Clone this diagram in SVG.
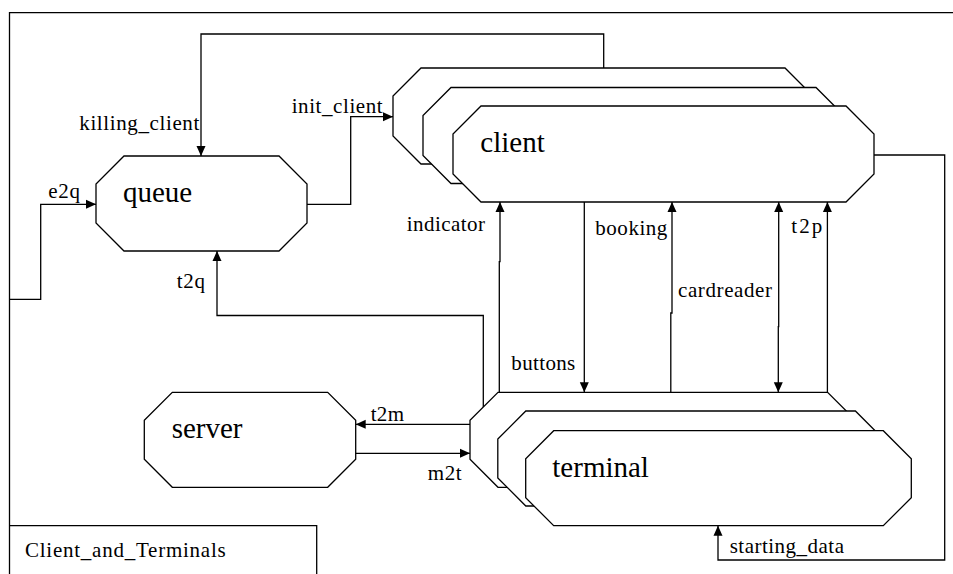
<svg xmlns="http://www.w3.org/2000/svg" width="953" height="574" viewBox="0 0 953 574">
  <defs>
    <marker id="arrow" markerUnits="userSpaceOnUse" markerWidth="10" markerHeight="10" viewBox="0 0 10 10" refX="10" refY="5" orient="auto">
      <path d="M0,0.5 L10,5 L0,9.5 z" fill="#000"/>
    </marker>
    <marker id="arrow-start" markerUnits="userSpaceOnUse" markerWidth="10" markerHeight="10" viewBox="0 0 10 10" refX="0" refY="5" orient="auto">
      <path d="M10,0.5 L0,5 L10,9.5 z" fill="#000"/>
    </marker>
  </defs>
  <style>
    .frame { fill: none; stroke: #000; stroke-width: 1.3; }
    .node { fill: #fff; stroke: #000; stroke-width: 1.3; stroke-linejoin: miter; }
    .conn { fill: none; stroke: #000; stroke-width: 1.3; }
    .name, .lbl { font-family: "Times New Roman", "Liberation Serif", Tinos, Times, "Noto Serif", "DejaVu Serif", serif; fill: #000; }
    .name { font-size: 29px; }
    .lbl { font-size: 21px; }
  </style>

  <rect width="953" height="574" fill="#fff"/>

  <!-- system frame and its name box -->
  <g id="frame">
    <path class="frame" d="M953,12.7 H9.5 V574"/>
    <path class="frame" d="M9.5,525.7 H316.7 V574"/>
    <text class="lbl" x="25" y="556.7" textLength="200.7" lengthAdjust="spacing">Client_and_Terminals</text>
  </g>

  <!-- queue process -->
  <g id="queue">
    <polygon class="node" points="124,156 279,156 307,184 307,223 279,251 124,251 96,223 96,184"/>
    <text class="name" x="123" y="201.5">queue</text>
  </g>

  <!-- client process set (three stacked instances) -->
  <g id="client">
    <polygon class="node" points="421,68 785,68 813,96 813,136 785,164 421,164 393,136 393,96"/>
    <polygon class="node" points="451,87.5 816,87.5 844,115.5 844,155.5 816,183.5 451,183.5 423,155.5 423,115.5"/>
    <polygon class="node" points="481,106 846,106 874,134 874,174 846,202 481,202 453,174 453,134"/>
    <text class="name" x="480.3" y="152.3">client</text>
  </g>

  <!-- server process -->
  <g id="server">
    <polygon class="node" points="172.3,392.3 327.7,392.3 355.7,420.3 355.7,459.3 327.7,487.3 172.3,487.3 144.3,459.3 144.3,420.3"/>
    <text class="name" x="171.7" y="437.8">server</text>
  </g>

  <!-- terminal process set (three stacked instances) -->
  <g id="terminal">
    <polygon class="node" points="498,392.3 827.6,392.3 855.6,420.3 855.6,459.3 827.6,487.3 498,487.3 470,459.3 470,420.3"/>
    <polygon class="node" points="525.8,411 855.4,411 883.4,439 883.4,478 855.4,506 525.8,506 497.8,478 497.8,439"/>
    <polygon class="node" points="553.7,430.7 883.3,430.7 911.3,458.7 911.3,497.7 883.3,525.7 553.7,525.7 525.7,497.7 525.7,458.7"/>
    <text class="name" x="552.3" y="476.7">terminal</text>
  </g>

  <!-- signal routes -->
  <g id="connectors">
    <path class="conn" d="M603.7,68 V34 H201 V156" marker-end="url(#arrow)"/>
    <path class="conn" d="M307,204.3 H350.7 V116.7 H393" marker-end="url(#arrow)"/>
    <path class="conn" d="M9.5,299.3 H40.7 V204.3 H96" marker-end="url(#arrow)"/>
    <path class="conn" d="M483.3,406.9 V315.5 H217 V251" marker-end="url(#arrow)"/>
    <path class="conn" d="M499.3,392.3 V261.7 H500 V202" marker-end="url(#arrow)"/>
    <path class="conn" d="M584.3,202 V392.3" marker-end="url(#arrow)"/>
    <path class="conn" d="M670.8,392.3 V313 H672 V202" marker-end="url(#arrow)"/>
    <path class="conn" d="M778.7,202 V326.7 H778.3 V392.3" marker-start="url(#arrow-start)" marker-end="url(#arrow)"/>
    <path class="conn" d="M827.4,392.3 V202" marker-end="url(#arrow)"/>
    <path class="conn" d="M874,155 H944.7 V560 H718 V525.7" marker-end="url(#arrow)"/>
    <path class="conn" d="M470,424.3 H355.7" marker-end="url(#arrow)"/>
    <path class="conn" d="M355.7,453.3 H470" marker-end="url(#arrow)"/>

    <text class="lbl" x="79.3" y="130" textLength="120" lengthAdjust="spacing">killing_client</text>
    <text class="lbl" x="291.7" y="113.3" textLength="91" lengthAdjust="spacing">init_client</text>
    <text class="lbl" x="48.3" y="198" textLength="31.7" lengthAdjust="spacing">e2q</text>
    <text class="lbl" x="176.7" y="288.3" textLength="28.3" lengthAdjust="spacing">t2q</text>
    <text class="lbl" x="406.7" y="230.7" textLength="78.3" lengthAdjust="spacing">indicator</text>
    <text class="lbl" x="595.3" y="235" textLength="72" lengthAdjust="spacing">booking</text>
    <text class="lbl" x="791.3" y="233.3" textLength="31" lengthAdjust="spacing">t2p</text>
    <text class="lbl" x="678" y="297.3" textLength="94" lengthAdjust="spacing">cardreader</text>
    <text class="lbl" x="511.3" y="370" textLength="64" lengthAdjust="spacing">buttons</text>
    <text class="lbl" x="370.7" y="420.7" textLength="33.3" lengthAdjust="spacing">t2m</text>
    <text class="lbl" x="427.7" y="480" textLength="34" lengthAdjust="spacing">m2t</text>
    <text class="lbl" x="729.7" y="553.3" textLength="114.3" lengthAdjust="spacing">starting_data</text>
  </g>
</svg>
